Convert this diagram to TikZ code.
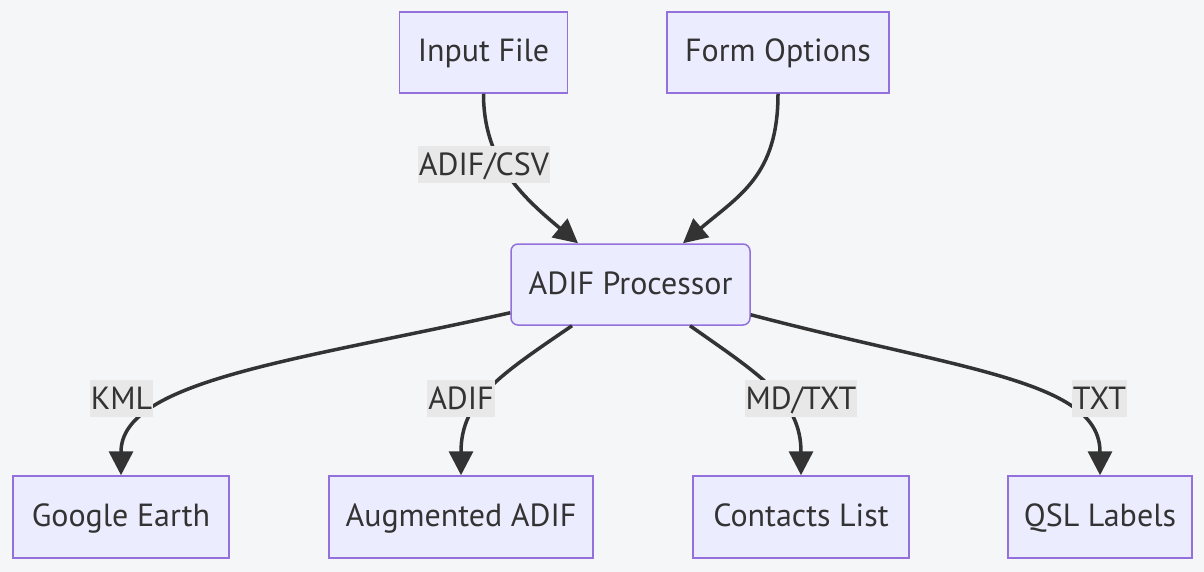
\documentclass[tikz,border=0pt]{standalone}
\usepackage{fontspec}
\setmainfont{PT Sans}
\usetikzlibrary{arrows.meta,calc}

\begin{document}
\begin{tikzpicture}[x=1pt,y=-1pt,
  box/.style={draw=boxline,fill=boxfill,line width=1.5pt,text=textcolor,
    font=\fontsize{32}{38}\selectfont,minimum height=81pt,inner sep=0pt,
    text height=25pt,text depth=6pt},
  flow/.style={draw=linecolor,line width=3.5pt,-{Triangle[length=24pt,width=24pt]}},
  tag/.style={fill=tagfill,text=textcolor,font=\fontsize{32}{38}\selectfont,
    minimum height=37pt,inner xsep=1pt,inner ysep=0pt,text height=26pt,text depth=4pt}]
\definecolor{background}{RGB}{245,246,248}
\definecolor{boxfill}{RGB}{236,236,255}
\definecolor{boxline}{RGB}{147,112,219}
\definecolor{linecolor}{RGB}{51,51,51}
\definecolor{textcolor}{RGB}{51,51,51}
\definecolor{tagfill}{RGB}{232,232,232}
\fill [background] (0,0) rectangle (1204,572);
\useasboundingbox (0,0) rectangle (1204,572);
\node [box,minimum width=168pt] (input) at (483.5,52.5) {Input File};
\node [box,minimum width=222pt] (form) at (778,52.5) {Form Options};
\node [box,minimum width=239pt,rounded corners=7pt] (proc) at (630.5,284.5) {ADIF Processor};
\node [box,minimum width=216pt,minimum height=82pt] (earth) at (121,517) {Google Earth};
\node [box,minimum width=264pt,minimum height=82pt] (augm) at (461,517) {Augmented ADIF};
\node [box,minimum width=216pt,minimum height=82pt] (contacts) at (801,517) {Contacts List};
\node [box,minimum width=184pt,minimum height=82pt] (qsl) at (1100,517) {QSL Labels};
\draw [flow] (input.south) .. controls (483.5,160) and (520,195) .. ($(proc.north)+(-52.5,0)$);
\draw [flow] (form.south) .. controls (778,175) and (740,195) .. ($(proc.north)+(52.5,0)$);
\draw [flow] ($(proc.south west)+(0,-13)$) .. controls (300,360) and (121,380) .. (earth.north);
\draw [flow] ($(proc.south)+(-58.5,0)$) .. controls (500,375) and (461,400) .. (augm.north);
\draw [flow] ($(proc.south)+(59.5,0)$) .. controls (760,375) and (801,400) .. (contacts.north);
\draw [flow] ($(proc.south east)+(0,-11)$) .. controls (960,370) and (1100,380) .. (qsl.north);
\node [tag] (tcsv) at (484,165) {ADIF/CSV};
\node [tag] (tkml) at (121.5,398.5) {KML};
\node [tag] (tadif) at (461,398.5) {ADIF};
\node [tag] (tmd) at (801,398.5) {MD/TXT};
\node [tag] (ttxt) at (1099.5,398.5) {TXT};
\end{tikzpicture}
\end{document}
